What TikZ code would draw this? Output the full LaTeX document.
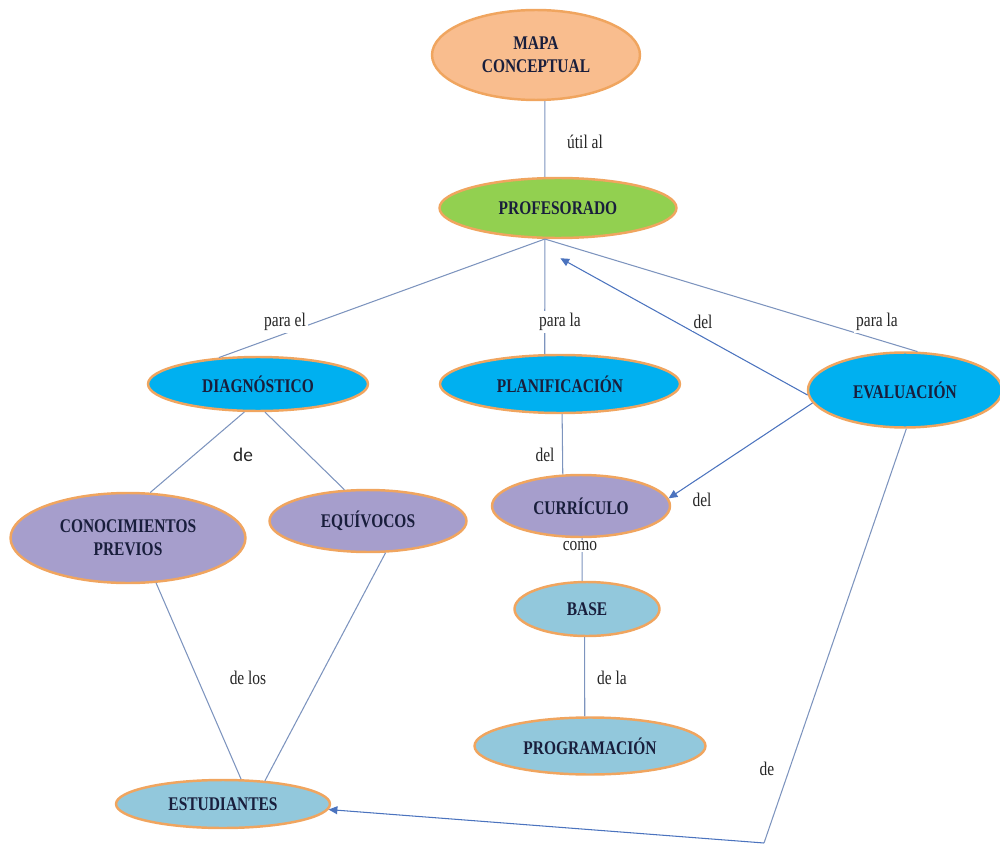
\documentclass[tikz,border=0pt]{standalone}
\usepackage{fontspec}
\setmainfont{Liberation Serif}[FakeStretch=0.8]
\newfontfamily\etiqsans{Carlito}
\usepackage{tikz}
\usetikzlibrary{shapes.geometric}
\usetikzlibrary{arrows.meta}
\tikzset{>={Triangle[length=5pt,width=4.5pt]}}
\definecolor{borde}{RGB}{240,165,95}
\definecolor{naranja}{RGB}{249,189,142}
\definecolor{verde}{RGB}{146,208,80}
\definecolor{azul}{RGB}{0,176,240}
\definecolor{lila}{RGB}{166,158,204}
\definecolor{celeste}{RGB}{146,200,220}
\definecolor{linea}{RGB}{125,148,190}
\definecolor{flecha}{RGB}{75,115,190}
\definecolor{texto}{RGB}{25,30,60}
\tikzset{
  concepto/.style={ellipse, draw=borde, line width=1.4pt, inner sep=0pt, text=texto,
    align=center, font=\bfseries\fontsize{11}{13}\selectfont},
  enlace/.style={draw=linea, line width=0.6pt},
  flechaenlace/.style={draw=flecha, line width=0.6pt, ->},
  etiqueta/.style={fill=white, inner sep=1pt, text=black!85, font=\fontsize{11}{12}\selectfont}
}

\begin{document}
\begin{tikzpicture}[x=0.02cm, y=-0.02cm]
                \useasboundingbox (0,0) rectangle (1000,844);

                % the concepts
                \node[concepto, fill=naranja, minimum width=4.16cm, minimum height=1.8cm] (mapa) at (536,55) {MAPA\\CONCEPTUAL};
                \node[concepto, fill=verde, minimum width=4.74cm, minimum height=1.2cm] (prof) at (558,208) {PROFESORADO};
                \node[concepto, fill=azul, minimum width=4.4cm, minimum height=1.08cm] (diag) at (258,384) {DIAGNÓSTICO};
                \node[concepto, fill=azul, minimum width=4.8cm, minimum height=1.16cm] (plan) at (560,384) {PLANIFICACIÓN};
                \node[concepto, fill=azul, minimum width=3.88cm, minimum height=1.5cm] (eval) at (905,390) {EVALUACIÓN};
                \node[concepto, fill=lila, minimum width=4.7cm, minimum height=1.8cm] (cono) at (128,538) {CONOCIMIENTOS\\PREVIOS};
                \node[concepto, fill=lila, minimum width=3.94cm, minimum height=1.24cm] (equi) at (368,521) {EQUÍVOCOS};
                \node[concepto, fill=lila, minimum width=3.56cm, minimum height=1.24cm] (curr) at (581,506) {CURRÍCULO};
                \node[concepto, fill=celeste, minimum width=2.9cm, minimum height=1.08cm] (base) at (587,609) {BASE};
                \node[concepto, fill=celeste, minimum width=4.62cm, minimum height=1.14cm] (prog) at (590,746) {PROGRAMACIÓN};
                \node[concepto, fill=celeste, minimum width=4.28cm, minimum height=0.96cm] (estu) at (223,804) {ESTUDIANTES};
                \coordinate (esq) at (764,843);

                % mapa to profesorado
                \draw[enlace] (mapa.-79) -- (prof.113);
                % profesorado to diagnostico
                \draw[enlace] (prof.247) -- (diag.146);
                % profesorado to planificacion
                \draw[enlace] (prof.247) -- (plan.117);
                % profesorado to evaluacion
                \draw[enlace] (prof.247) -- (eval.72);
                % evaluacion to profesorado
                \draw[flechaenlace, shorten >=0.84cm] (eval.183) -- (prof.221);
                % evaluacion to curriculo
                \draw[flechaenlace] (eval.188) -- (curr.5);
                % planificacion to curriculo
                \draw[enlace] (plan.-86) -- (curr.120);
                % curriculo to base
                \draw[enlace] (curr.-88) -- (base.100);
                % base to programacion
                \draw[enlace] (base.-95) -- (prog.100);
                % diagnostico to conocimientos
                \draw[enlace] (diag.-116) -- (cono.64);
                % diagnostico to equivocos
                \draw[enlace] (diag.-76) -- (equi.127);
                % conocimientos to estudiantes
                \draw[enlace] (cono.-58) -- (estu.54);
                % equivocos to estudiantes
                \draw[enlace] (equi.-61) -- (estu.29);
                % evaluacion to estudiantes
                \draw[enlace] (eval.-88) -- (esq);
                \draw[flechaenlace] (esq) -- (estu.-3);

                % the link words
                \node[etiqueta] (lutil) at (585,142) {útil al};
                \node[etiqueta] (lparael) at (285,322) {para el};
                \node[etiqueta] (lparaplan) at (560,322) {para la};
                \node[etiqueta] (ldelprof) at (703,322) {del};
                \node[etiqueta] (lparaeval) at (877,322) {para la};
                \node[etiqueta, font=\etiqsans\fontsize{11}{12}\selectfont] (lde) at (243,455) {de};
                \node[etiqueta] (ldelplan) at (545,455) {del};
                \node[etiqueta] (ldelcurr) at (702,500) {del};
                \node[etiqueta] (lcomo) at (580,546) {como};
                \node[etiqueta] (ldelos) at (248,678) {de los};
                \node[etiqueta] (ldela) at (612,678) {de la};
                \node[etiqueta] (ldeestu) at (767,769) {de};
            \end{tikzpicture}
\end{document}
